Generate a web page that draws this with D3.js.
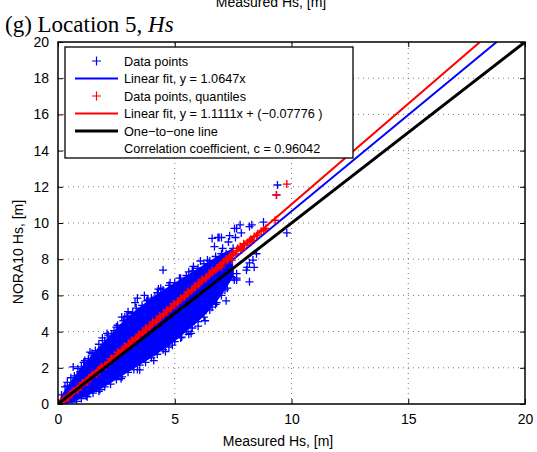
<!DOCTYPE html>
<html>
<head>
<meta charset="utf-8">
<script src="https://cdn.jsdelivr.net/npm/d3@7"></script>
<style>
  body { margin: 0; background: #fff; }
  svg text { font-family: "Liberation Sans", Arial, sans-serif; }
</style>
</head>
<body>
<div id="chart"></div>
<script>
// ---- data ----
let xTicks = [0, 5, 10, 15, 20];
let yTicks = [0, 2, 4, 6, 8, 10, 12, 14, 16, 18, 20];

// dense part of the blue cloud: upper edge then lower edge (x, y)
let cloudUpper = [[0,0],[0.15,0.5],[0.4,1.0],[0.7,1.55],[1.0,2.05],[1.3,2.5],[1.6,2.95],[2.0,3.5],[2.4,4.05],
    [2.8,4.6],[3.2,5.05],[3.6,5.45],[4.0,5.85],[4.5,6.3],[5.0,6.7],[5.5,7.1],[6.0,7.5],[6.5,7.9],[7.0,8.3],[7.5,8.6]];
let cloudLower = [[7.5,7.0],[7.0,6.0],[6.5,5.2],[6.0,4.55],[5.5,4.0],[5.0,3.45],[4.5,3.0],[4.0,2.55],[3.5,2.15],
    [3.0,1.75],[2.5,1.35],[2.0,0.95],[1.5,0.6],[1.0,0.3],[0.6,0.1],[0.3,0.0]];

// ragged edge of the cloud (x, y)
let cloudEdge = [[0.3,0.95],[0.55,1.45],[0.85,1.95],[1.15,2.4],[1.45,2.8],[1.75,3.3],[2.15,3.8],[2.55,4.35],
    [2.95,4.85],[3.35,5.3],[3.8,5.7],[4.25,6.15],[4.75,6.55],[5.25,6.95],[5.75,7.35],[6.25,7.75],[6.75,8.15],
    [0.8,0.15],[1.25,0.4],[1.75,0.7],[2.25,1.1],[2.75,1.5],[3.25,1.9],[3.75,2.3],[4.25,2.75],[4.75,3.15],
    [5.25,3.65],[5.75,4.2],[6.25,4.8],[6.75,5.5],[7.25,6.4],[1.9,3.65],[3.0,5.1],[4.4,6.4],[5.6,3.85],[4.1,2.4]];

// scattered blue points outside the dense cloud
let bluePoints = [[9.4,12.1],[9.36,11.55],[9.8,9.45],[8.8,10.05],[8.2,9.8],[7.56,9.7],[7.6,9.2],[7.0,9.2],[7.3,8.95],
    [7.05,8.6],[8.5,8.3],[8.35,7.95],[8.1,7.55],[8.4,7.55],[7.65,7.2],[7.65,6.95],[4.5,7.4],[6.6,9.15],[6.85,9.2],
    [7.35,9.3],[7.65,9.7],[6.7,8.7],[6.4,7.95],[7.2,8.3],[7.65,6.85],[7.15,6.3],[6.8,5.6],[7.5,7.2],[8.07,7.4],
    [4.8,6.7],[3.4,5.85],[3.85,5.75],[3.2,5.0],[2.73,4.8],[2.1,3.9],[2.3,3.8],[1.45,2.8],[0.65,2.05],[3.4,1.9],
    [4.9,3.25],[5.3,3.7],[6.2,5.0],[6.6,5.35],[7.05,6.3],[7.55,6.85],[8.2,6.75],[8.2,7.8],[8.3,9.9],[7.8,9.9],
    [6.9,9.2],[7.85,9.45],[3.3,5.6],[3.7,6.0],[4.15,5.9],[2.86,4.8],[1.37,2.87],[0.94,1.77],[3.5,1.88],[4.15,2.87],
    [5.6,7.3],[5.2,6.95],[4.3,6.35],[2.5,4.25],[1.9,3.5],[1.1,2.3],[0.4,1.2],[6.1,7.9],[5.8,7.6],
    [5.7,3.9],[6.3,4.6],[4.6,2.9],[2.7,1.4],[1.8,0.8],[1.2,0.45],[6.0,4.3],[7.2,5.7]];

// quantile points (red)
let redPoints = [[0.1,0.05],[0.2,0.15],[0.3,0.26],[0.4,0.37],[0.5,0.48],[0.6,0.59],[0.7,0.7],[0.8,0.81],[0.9,0.93],
    [1.0,1.03],[1.1,1.15],[1.2,1.26],[1.3,1.37],[1.4,1.48],[1.5,1.59],[1.6,1.7],[1.7,1.81],[1.8,1.92],[1.9,2.03],
    [2.0,2.14],[2.15,2.31],[2.3,2.48],[2.45,2.65],[2.6,2.82],[2.75,2.98],[2.9,3.15],[3.05,3.31],[3.2,3.48],
    [3.35,3.65],[3.5,3.81],[3.65,3.98],[3.8,4.15],[3.95,4.31],[4.1,4.48],[4.25,4.65],[4.4,4.81],[4.55,4.98],
    [4.7,5.15],[4.85,5.31],[5.0,5.48],[5.15,5.65],[5.3,5.81],[5.45,5.98],[5.6,6.15],[5.75,6.31],[5.9,6.48],
    [6.05,6.66],[6.2,6.82],[6.35,6.98],[6.5,7.2],[6.65,7.3],[6.8,7.5],[6.95,7.7],[7.1,7.85],[7.25,7.95],[7.4,8.2],
    [7.5,8.35],[7.6,8.3],[7.7,8.6],[7.8,8.7],[7.95,8.85],[8.1,8.9],[8.25,9.1],[8.4,9.25],[8.55,9.4],[8.7,9.55],
    [8.9,9.7],[7.0,7.55],[7.3,8.05],[7.45,7.95],[7.9,8.55],[8.3,9.0],[9.3,10.15],[9.35,11.55],[9.8,12.15],
    // second row of the thick band, a little above and below the first
    [0.25,0.3],[0.45,0.35],[0.65,0.72],[0.85,0.78],[1.05,1.18],[1.25,1.22],[1.45,1.62],[1.65,1.66],[1.85,2.06],
    [2.05,2.1],[2.25,2.5],[2.4,2.5],[2.55,2.86],[2.7,2.9],[2.85,3.2],[3.0,3.25],[3.15,3.52],[3.3,3.56],[3.45,3.86],
    [3.6,3.9],[3.75,4.2],[3.9,4.22],[4.05,4.54],[4.2,4.56],[4.35,4.86],[4.5,4.9],[4.65,5.2],[4.8,5.24],[4.95,5.54],
    [5.1,5.56],[5.25,5.86],[5.4,5.9],[5.55,6.2],[5.7,6.24],[5.85,6.54],[6.0,6.58],[6.15,6.88],[6.3,6.92],[6.45,7.1],
    [6.6,7.38],[6.75,7.4],[6.9,7.6],[7.05,7.8],[7.2,8.0],[7.35,8.12],[7.65,8.45],[7.85,8.62],[8.0,8.8],[8.2,9.02],
    [8.5,9.3],[8.8,9.62]];

// fitted lines: [slope, intercept]
let blueFit = [1.0647, 0];
let redFit = [1.1111, -0.07776];
let oneToOne = [1, 0];

let legendItems = [
    { label: "Data points", kind: "plus", color: "#0000ff" },
    { label: "Linear fit, y = 1.0647x", kind: "line", color: "#0000ff", width: 2 },
    { label: "Data points, quantiles", kind: "plus", color: "#ff0000" },
    { label: "Linear fit, y = 1.1111x + (\u22120.07776 )", kind: "line", color: "#ff0000", width: 2 },
    { label: "One\u2212to\u2212one line", kind: "line", color: "#000000", width: 3 },
    { label: "Correlation coefficient, c = 0.96042", kind: "none" }
];

// ---- drawing ----
let W = 537, H = 452;
let margin = { top: 42, right: 12, bottom: 48, left: 58 };
let x0 = margin.left, x1 = W - margin.right, y0 = H - margin.bottom, y1 = margin.top;

let svg = d3.select("#chart").append("svg")
    .attr("width", W)
    .attr("height", H);

let x = d3.scaleLinear().domain([0, 20]).range([x0, x1]);
let y = d3.scaleLinear().domain([0, 20]).range([y0, y1]);

// clipped plotting region
svg.append("clipPath").attr("id", "clip")
    .append("rect").attr("x", x0).attr("y", y1).attr("width", x1 - x0).attr("height", y0 - y1);

// grid
let grid = svg.append("g");
grid.selectAll(".gx").data(xTicks.slice(1, -1)).enter().append("line")
    .attr("x1", d => x(d)).attr("x2", d => x(d)).attr("y1", y0).attr("y2", y1)
    .attr("stroke", "#777").attr("stroke-width", 1).attr("stroke-dasharray", "1,4");
grid.selectAll(".gy").data(yTicks.slice(1, -1)).enter().append("line")
    .attr("y1", d => y(d)).attr("y2", d => y(d)).attr("x1", x0).attr("x2", x1)
    .attr("stroke", "#777").attr("stroke-width", 1).attr("stroke-dasharray", "1,4");

let plot = svg.append("g").attr("clip-path", "url(#clip)");

function plusPath(d, s) {
    let px = x(d[0]), py = y(d[1]);
    return `M${px - s},${py}H${px + s}M${px},${py - s}V${py + s}`;
}

// blue cloud
let cloud = cloudUpper.concat(cloudLower);
plot.append("path")
    .attr("d", d3.line().x(d => x(d[0])).y(d => y(d[1]))(cloud) + "Z")
    .attr("fill", "#0000ff");
plot.append("path")
    .attr("d", cloud.concat(cloudEdge, bluePoints).map(d => plusPath(d, 4)).join(""))
    .attr("stroke", "#0000ff").attr("stroke-width", 1.3).attr("fill", "none");

function fitLine(f, color, w) {
    let xe = Math.min(20, (20 - f[1]) / f[0]);
    plot.append("line")
        .attr("x1", x(0)).attr("y1", y(f[1]))
        .attr("x2", x(xe)).attr("y2", y(f[0] * xe + f[1]))
        .attr("stroke", color).attr("stroke-width", w);
}

fitLine(blueFit, "#0000ff", 2);

plot.append("path")
    .attr("d", redPoints.map(d => plusPath(d, 4)).join(""))
    .attr("stroke", "#ff0000").attr("stroke-width", 1.4).attr("fill", "none");

fitLine(redFit, "#ff0000", 2);
fitLine(oneToOne, "#000000", 3);

// axes box with inward ticks
let axes = svg.append("g");
axes.append("rect").attr("x", x0).attr("y", y1).attr("width", x1 - x0).attr("height", y0 - y1)
    .attr("fill", "none").attr("stroke", "#000").attr("stroke-width", 1.5);
axes.append("g").attr("transform", `translate(0,${y0})`)
    .call(d3.axisBottom(x).tickValues(xTicks).tickSizeInner(-5).tickSizeOuter(0).tickPadding(10));
axes.append("g").attr("transform", `translate(0,${y1})`)
    .call(d3.axisTop(x).tickValues(xTicks).tickSizeInner(-5).tickSizeOuter(0).tickFormat(""));
axes.append("g").attr("transform", `translate(${x0},0)`)
    .call(d3.axisLeft(y).tickValues(yTicks).tickSizeInner(-5).tickSizeOuter(0).tickPadding(9));
axes.append("g").attr("transform", `translate(${x1},0)`)
    .call(d3.axisRight(y).tickValues(yTicks).tickSizeInner(-5).tickSizeOuter(0).tickFormat(""));
axes.selectAll(".domain").remove();
axes.selectAll(".tick line").attr("stroke", "#000");
axes.selectAll(".tick text")
    .style("font-size", "14px")
    .style("font-family", "'Liberation Sans', Arial, sans-serif")
    .attr("fill", "#000");

// legend
let lg = svg.append("g");
lg.append("rect").attr("x", 65).attr("y", 47).attr("width", 288).attr("height", 111)
    .attr("fill", "#fff").attr("stroke", "#000").attr("stroke-width", 1.3);
let rowY = d => 61 + d * 17.5;
legendItems.forEach((it, i) => {
    let ry = rowY(i);
    if (it.kind === "plus") {
        lg.append("path")
            .attr("d", `M92,${ry}H101M96.5,${ry - 4.5}V${ry + 4.5}`)
            .attr("stroke", it.color).attr("stroke-width", 1.2);
    } else if (it.kind === "line") {
        lg.append("line").attr("x1", 75).attr("x2", 118).attr("y1", ry).attr("y2", ry)
            .attr("stroke", it.color).attr("stroke-width", it.width);
    }
    lg.append("text").attr("x", 124).attr("y", ry + 4.5)
        .style("font-size", "12.7px").text(it.label);
});

// axis labels
svg.append("text").attr("x", 278).attr("y", 446).attr("text-anchor", "middle")
    .style("font-size", "14px").text("Measured Hs, [m]");
svg.append("text").attr("transform", "translate(23,252) rotate(-90)").attr("text-anchor", "middle")
    .style("font-size", "14px").text("NORA10 Hs, [m]");

// clipped label of the panel above
svg.append("text").attr("x", 271).attr("y", 7).attr("text-anchor", "middle")
    .style("font-size", "14px").text("Measured Hs, [m]");

// panel title
let title = svg.append("text").attr("x", 5).attr("y", 32)
    .style("font-family", "'Liberation Serif', 'Times New Roman', serif")
    .style("font-size", "23px");
title.append("tspan").text("(g) Location 5, ");
title.append("tspan").style("font-style", "italic").text("Hs");
</script>
</body>
</html>
